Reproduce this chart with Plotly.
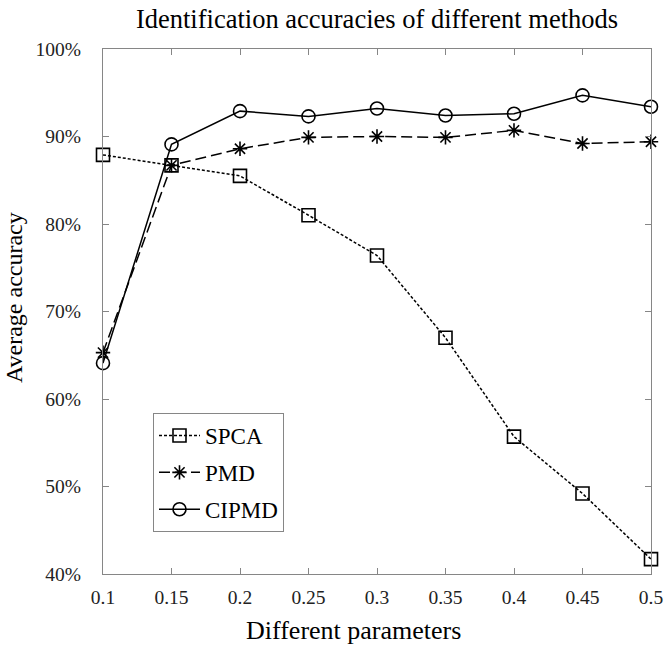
import plotly.graph_objects as go

params = [0.1, 0.15, 0.2, 0.25, 0.3, 0.35, 0.4, 0.45, 0.5]
tick_labels = ["0.1", "0.15", "0.2", "0.25", "0.3", "0.35", "0.4", "0.45", "0.5"]
spca = [87.9, 86.7, 85.5, 81.0, 76.4, 67.0, 55.7, 49.2, 41.7]
pmd = [65.3, 86.7, 88.6, 89.9, 90.0, 89.9, 90.7, 89.2, 89.4]
cipmd = [64.1, 89.1, 92.9, 92.3, 93.2, 92.4, 92.6, 94.7, 93.4]

FONT = "Liberation Serif"
AX = "#868686"
L, R, T, B = 103, 651, 49, 574
PW, PH = R - L, B - T

fig = go.Figure()
fig.add_trace(go.Scatter(
    x=params, y=spca, name="SPCA", mode="lines+markers", legendgroup="a",
    line=dict(color="black", width=1.5, dash="3px,2px"),
    marker=dict(symbol="square-open", size=13, color="black", line=dict(width=1.6)),
    cliponaxis=False))
fig.add_trace(go.Scatter(
    x=params, y=pmd, name="PMD", mode="lines+markers", legendgroup="b",
    line=dict(color="black", width=1.5, dash="11px,5px"),
    marker=dict(symbol="asterisk-open", size=12, color="black", line=dict(width=1.6, color="black")),
    cliponaxis=False))
fig.add_trace(go.Scatter(
    x=params, y=cipmd, name="CIPMD", mode="lines+markers", legendgroup="c",
    line=dict(color="black", width=1.5),
    marker=dict(symbol="circle-open", size=13, color="black", line=dict(width=1.6)),
    cliponaxis=False))

fig.update_layout(
    width=666, height=657,
    margin=dict(l=L, r=666 - R, t=T, b=657 - B),
    paper_bgcolor="white", plot_bgcolor="white",
    font=dict(family=FONT, color="black"),
    title=dict(text="Identification accuracies of different methods",
               x=(L + R) / 2 / 666, xanchor="center", y=1 - 19 / 657, yanchor="middle",
               font=dict(size=26.5, family=FONT, color="black")),
    xaxis=dict(range=[0.1, 0.5], tickvals=params, ticktext=tick_labels,
               showgrid=False, zeroline=False, showline=True, linecolor=AX, linewidth=1,
               mirror="ticks", ticks="inside", ticklen=6, tickcolor=AX,
               automargin=False, ticklabelstandoff=6,
               tickfont=dict(size=19.5, family=FONT, color="#222222")),
    yaxis=dict(range=[40, 100], dtick=10, ticksuffix="%",
               showgrid=False, zeroline=False, showline=True, linecolor=AX, linewidth=1,
               mirror="ticks", ticks="inside", ticklen=6, tickcolor=AX,
               automargin=False, ticklabelstandoff=17,
               tickfont=dict(size=19.5, family=FONT, color="#222222")),
    annotations=[
        dict(text="Different parameters", xref="paper", yref="paper",
             x=(353 - L) / PW, y=(B - 630) / PH, xanchor="center", yanchor="middle",
             showarrow=False, font=dict(size=26, family=FONT, color="black")),
        dict(text="Average accuracy", xref="paper", yref="paper", textangle=-90,
             x=(14 - L) / PW, y=(B - 298) / PH, xanchor="center", yanchor="middle",
             showarrow=False, font=dict(size=24, family=FONT, color="black")),
    ],
    legend=dict(x=(153 - L) / PW, y=(B - 413) / PH, xanchor="left", yanchor="top",
                bordercolor=AX, borderwidth=1, bgcolor="white",
                font=dict(size=23, family=FONT, color="black"),
                itemwidth=41, tracegroupgap=4),
    showlegend=True,
)

fig.write_html("out.html", config={"displayModeBar": False},
               post_script="document.body.style.margin='0';document.body.style.overflow='hidden';")
